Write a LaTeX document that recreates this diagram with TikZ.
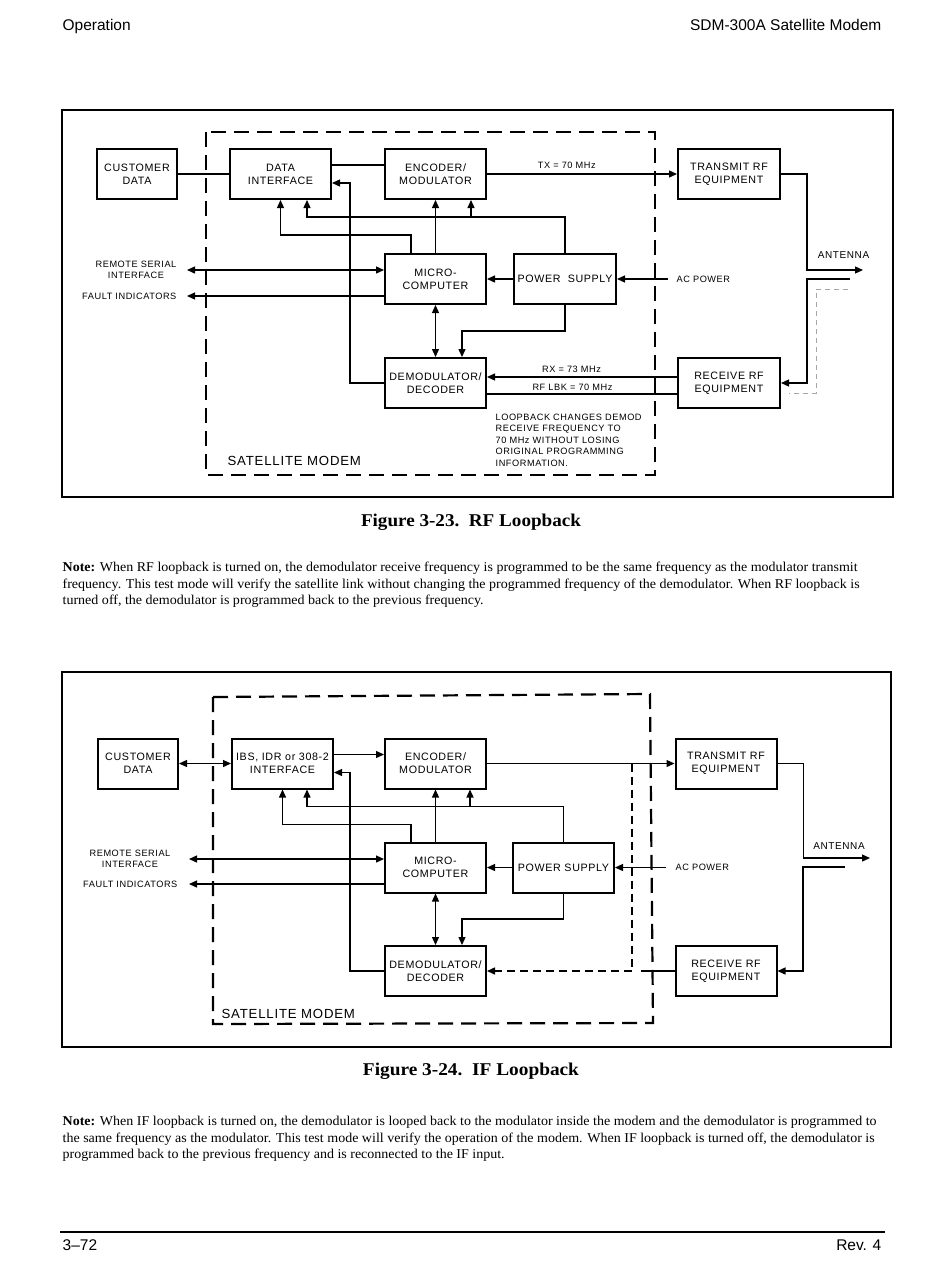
\documentclass[tikz,border=0pt]{standalone}
\usepackage{fontspec}
\usepackage{graphicx}
\setmainfont{Liberation Serif}
\newfontfamily\dgfont[LetterSpace=6]{Liberation Sans}
\newfontfamily\hdfont{Liberation Sans}
\usetikzlibrary{arrows.meta,positioning}
\newcommand{\noteline}[2]{\resizebox{#1pt}{\height}{#2}}

\begin{document}
\begin{tikzpicture}[x=1pt, y=-1pt, line width=1.3pt, >={Triangle[length=8pt,width=7pt]},
  blk/.style={draw, line width=2pt, minimum width=101pt, minimum height=50pt, inner sep=1pt, align=center, font=\dgfont\fontsize{10.7}{13}\selectfont},
  lbl/.style={inner sep=0pt, align=center, font=\dgfont\fontsize{9.2}{11.5}\selectfont},
  biglbl/.style={lbl, font=\dgfont\fontsize{13.2}{15}\selectfont},
  antlbl/.style={lbl, font=\dgfont\fontsize{10}{12}\selectfont},
  modem/.style={line width=2.2pt, dash pattern=on 15pt off 8pt},
  loopdash/.style={line width=1.5pt, dash pattern=on 8pt off 5pt},
  loopgray/.style={gray!70, line width=0.9pt, dash pattern=on 5pt off 4pt},
  frame/.style={line width=1.5pt},
  pg/.style={inner sep=0pt, font=\hdfont\fontsize{15.5}{18}\selectfont},
  txt/.style={inner sep=0pt, anchor=base west, font=\fontsize{13.5}{16.5}\selectfont},
  figcap/.style={inner sep=0pt, anchor=base, font=\bfseries\fontsize{18}{21}\selectfont}]

\useasboundingbox[fill=white] (0,0) rectangle (950,1267);

\node[pg, anchor=base west] (pgl) at (62,30) {Operation};
\node[pg, anchor=base east] (pgr) at (882,30) {SDM-300A Satellite Modem};

% Figure 3-23
\draw[frame] (62,110) rectangle (893,497);
\draw[modem] (206,132) rectangle (655,475);
\node[biglbl, anchor=west] (sm1) at (227,460.5) {SATELLITE MODEM};

\node[blk, minimum width=80pt] (cust1) at (137,174) {CUSTOMER\\DATA};
\node[blk] (di1) at (280.5,174) {DATA\\INTERFACE};
\node[blk] (enc1) at (435.5,174) {ENCODER/\\MODULATOR};
\node[blk, minimum width=102pt] (tx1) at (729,174) {TRANSMIT RF\\EQUIPMENT};
\node[blk] (mc1) at (435.5,279) {MICRO-\\COMPUTER};
\node[blk, minimum width=102pt] (ps1) at (565,279) {POWER\ \ SUPPLY};
\node[blk] (dem1) at (435.5,383) {DEMODULATOR/\\DECODER};
\node[blk, minimum width=102pt] (rx1) at (729,383) {RECEIVE RF\\EQUIPMENT};

\coordinate (rs1) at (187,270);
\coordinate (fi1) at (187,296);
\coordinate (ac1) at (668,279);
\coordinate (ant1) at (863,270);
\coordinate (antr1) at (850,279);
\coordinate (gy1) at (848,289);
\coordinate (gz1) at (789,393);

\node[lbl, left=10pt of rs1] (rsl1) {REMOTE SERIAL\\INTERFACE};
\node[lbl, left=10pt of fi1] (fil1) {FAULT INDICATORS};
\node[lbl, right=8pt of ac1] (acl1) {AC POWER};
\node[antlbl] (antl1) at (843.5,255) {ANTENNA};
\node[lbl, anchor=north west, align=left] (lbk1) at (495,413) {LOOPBACK CHANGES DEMOD\\RECEIVE FREQUENCY TO\\70 MHz WITHOUT LOSING\\ORIGINAL PROGRAMMING\\INFORMATION.};

\draw (cust1) -- (di1);
\draw ([yshift=9pt]di1.east) -- ([yshift=9pt]enc1.west);
\draw[->] (dem1.west) -| ([xshift=18pt,yshift=-9pt]di1.east) -- ([yshift=-9pt]di1.east);
\draw[->] ([xshift=-24.5pt]mc1.north) |- ([yshift=-35pt]di1.south) -- (di1.south);
\draw[->] (ps1.north) |- ([xshift=26.5pt,yshift=-17pt]di1.south) -- ([xshift=26.5pt]di1.south);
\draw[->] ([xshift=35.5pt,yshift=-17pt]enc1.south) -- ([xshift=35.5pt]enc1.south);
\draw[->] (mc1) -- (enc1);
\draw[<->] (rs1) -- (mc1.west |- rs1);
\draw[->] (mc1.west |- fi1) -- (fi1);
\draw[->] (ps1) -- (mc1);
\draw[->] (ac1) -- (ps1);
\draw[<->] (mc1) -- (dem1);
\draw[->] (ps1.south) |- ([xshift=26.5pt,yshift=26pt]dem1.north) -- ([xshift=26.5pt]dem1.north);
\draw[->] (enc1) -- node[lbl, above=4.5pt, pos=0.42] {TX = 70 MHz} (tx1);
\draw[->] ([yshift=6pt]rx1.west) -- node[lbl, above=3.5pt, pos=0.555] {RX = 73 MHz} ([yshift=6pt]dem1.east);
\draw ([yshift=-11pt]dem1.east) -- node[lbl, above=2.5pt, pos=0.45] {RF LBK = 70 MHz} ([yshift=-11pt]rx1.west);
\draw[->] (tx1.east) -- ++(26,0) |- (ant1);
\draw[->] (antr1) -- ++(-43,0) |- (rx1.east);
\draw[loopgray] (gy1) -- ++(-32,0) |- (gz1);

\node[figcap] (cap1) at (471,526) {\resizebox{220pt}{\height}{Figure 3-23.\ \ RF Loopback}};
\node[txt] (n1a) at (62,571.5) {\noteline{795}{\textbf{Note:} When RF loopback is turned on, the demodulator receive frequency is programmed to be the same frequency as the modulator transmit}};
\node[txt] (n1b) at (62,588) {\noteline{797}{frequency. This test mode will verify the satellite link without changing the programmed frequency of the demodulator. When RF loopback is}};
\node[txt] (n1c) at (62,604.5) {\noteline{421}{turned off, the demodulator is programmed back to the previous frequency.}};

% Figure 3-24
\draw[frame] (62,672) rectangle (891,1047);
\draw[modem] (213,697) -- (650,694) -- (653,1023) -- (213,1024) -- cycle;
\node[biglbl, anchor=west] (sm2) at (221,1013.5) {SATELLITE MODEM};

\node[blk, minimum width=80pt] (cust2) at (138,763.5) {CUSTOMER\\DATA};
\node[blk] (if2) at (282.5,763.5) {IBS, IDR or 308-2\\INTERFACE};
\node[blk] (enc2) at (435.5,763.5) {ENCODER/\\MODULATOR};
\node[blk] (tx2) at (726,763.5) {TRANSMIT RF\\EQUIPMENT};
\node[blk] (mc2) at (435.5,867.5) {MICRO-\\COMPUTER};
\node[blk] (ps2) at (563.5,867.5) {POWER SUPPLY};
\node[blk] (dem2) at (435.5,971) {DEMODULATOR/\\DECODER};
\node[blk] (rx2) at (726,971) {RECEIVE RF\\EQUIPMENT};

\coordinate (rs2) at (189,859);
\coordinate (fi2) at (189,884);
\coordinate (ac2) at (666,867.5);
\coordinate (ant2) at (870,858);
\coordinate (antr2) at (845,867);
\coordinate (lp2) at (632,763.5);
\coordinate (rxo2) at (641,971);

\node[lbl, left=18pt of rs2] (rsl2) {REMOTE SERIAL\\INTERFACE};
\node[lbl, left=11pt of fi2] (fil2) {FAULT INDICATORS};
\node[lbl, right=9pt of ac2] (acl2) {AC POWER};
\node[antlbl] (antl2) at (839,846.5) {ANTENNA};

\draw[<->] (cust2) -- (if2);
\draw[->] ([yshift=9pt]if2.east) -- ([yshift=9pt]enc2.west);
\draw[->] (dem2.west) -| ([xshift=16pt,yshift=-9pt]if2.east) -- ([yshift=-9pt]if2.east);
\draw[->] ([xshift=-24.5pt]mc2.north) |- ([yshift=-35pt]if2.south) -- (if2.south);
\draw[->] (ps2.north) |- ([xshift=24.5pt,yshift=-17pt]if2.south) -- ([xshift=24.5pt]if2.south);
\draw[->] ([xshift=34.5pt,yshift=-17pt]enc2.south) -- ([xshift=34.5pt]enc2.south);
\draw[->] (mc2) -- (enc2);
\draw[<->] (rs2) -- (mc2.west |- rs2);
\draw[->] (mc2.west |- fi2) -- (fi2);
\draw[->] (ps2) -- (mc2);
\draw[->] (ac2) -- (ps2);
\draw[<->] (mc2) -- (dem2);
\draw[->] (ps2.south) |- ([xshift=26.5pt,yshift=26pt]dem2.north) -- ([xshift=26.5pt]dem2.north);
\draw[->] (enc2) -- (tx2);
\draw[->, loopdash] (lp2) |- (dem2.east);
\draw (rx2.west) -- (rxo2);
\draw[->] (tx2.east) -- ++(26,0) |- (ant2);
\draw[->] (antr2) -- ++(-42,0) |- (rx2.east);

\node[figcap] (cap2) at (471,1075) {\resizebox{216pt}{\height}{Figure 3-24.\ \ IF Loopback}};
\node[txt] (n2a) at (62,1125.5) {\noteline{814}{\textbf{Note:} When IF loopback is turned on, the demodulator is looped back to the modulator inside the modem and the demodulator is programmed to}};
\node[txt] (n2b) at (62,1142) {\noteline{812}{the same frequency as the modulator. This test mode will verify the operation of the modem. When IF loopback is turned off, the demodulator is}};
\node[txt] (n2c) at (62,1158) {\noteline{442}{programmed back to the previous frequency and is reconnected to the IF input.}};

\draw[line width=1.2pt] (60,1232) -- (885,1232);
\node[pg, anchor=base west] (pgn) at (62,1250) {3–72};
\node[pg, anchor=base east] (pgv) at (882,1250) {Rev. 4};
\end{tikzpicture}
\end{document}
